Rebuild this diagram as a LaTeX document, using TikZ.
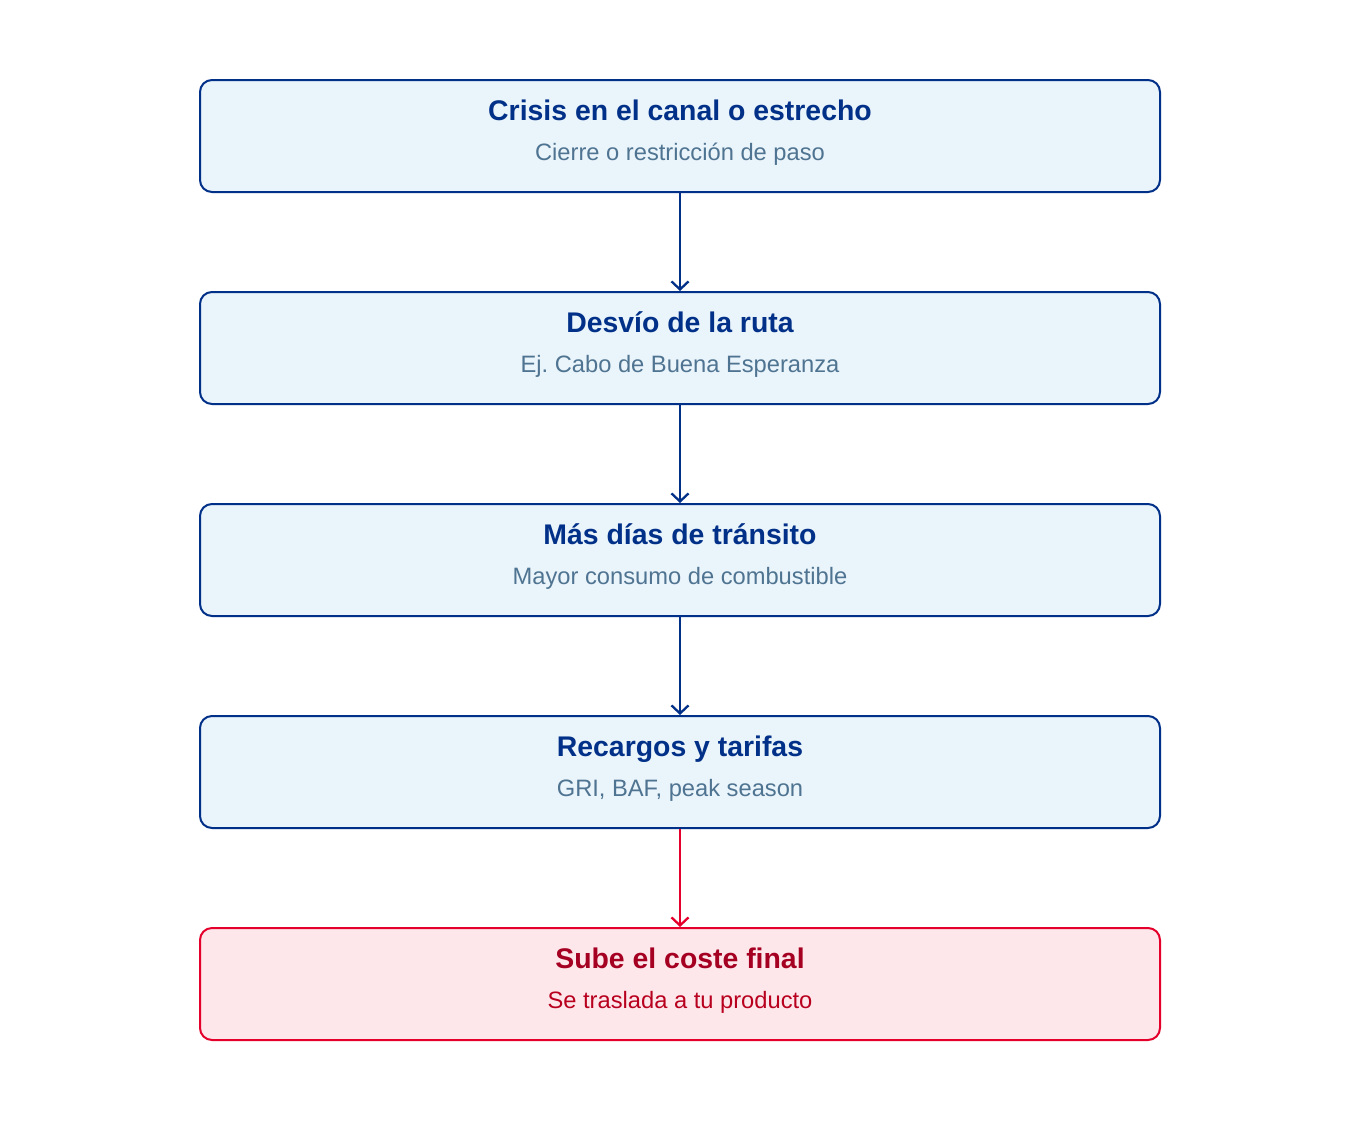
\documentclass[tikz,border=0pt]{standalone}
\usepackage{fontspec}
\setmainfont{Liberation Sans}
\usetikzlibrary{arrows.meta}
\definecolor{bluedk}{HTML}{003087}
\definecolor{bluefill}{HTML}{EAF4FB}
\definecolor{bluesub}{HTML}{4F7491}
\definecolor{reddk}{HTML}{E4002B}
\definecolor{redfill}{HTML}{FDE7EA}
\definecolor{redtitle}{HTML}{A50021}
\definecolor{redsub}{HTML}{B8001E}
\frenchspacing
\tikzset{
  stepbox/.style={draw=bluedk, fill=bluefill, line width=2pt, rounded corners=12pt, minimum width=960pt, minimum height=112pt, inner sep=0pt},
  redbox/.style={stepbox, draw=reddk, fill=redfill},
  ttl/.style={font=\fontsize{28.4}{32}\selectfont\bfseries, text=bluedk, anchor=base},
  sub/.style={font=\fontsize{23.7}{28}\selectfont, text=bluesub, anchor=base},
  conn/.style={draw=bluedk, line width=2.6pt, -{Straight Barb[length=8pt,width=17pt,line width=2.3pt]}},
}
\begin{document}
\begin{tikzpicture}[x=1pt,y=-1pt]
\useasboundingbox (0,0) rectangle (1360,1120);
\foreach \i/\t/\s in {0/{Crisis en el canal o estrecho}/{Cierre o restricción de paso},
                      1/{Desvío de la ruta}/{Ej. Cabo de Buena Esperanza},
                      2/{Más días de tránsito}/{Mayor consumo de combustible},
                      3/{Recargos y tarifas}/{GRI, BAF, peak season}}{
  \node[stepbox] (b\i) at (680,136+212*\i) {};
  \node[ttl] (t\i) at (680,120+212*\i) {\t};
  \node[sub] (s\i) at (680,160+212*\i) {\s};
}
\node[redbox] (b4) at (680,984) {};
\node[ttl, text=redtitle] (t4) at (680,968) {Sube el coste final};
\node[sub, text=redsub] (s4) at (680,1008) {Se traslada a tu producto};
\draw[conn] (b0.south) -- (b1.north);
\draw[conn] (b1.south) -- (b2.north);
\draw[conn] (b2.south) -- (b3.north);
\draw[conn, draw=reddk] (b3.south) -- (b4.north);
\end{tikzpicture}
\end{document}
